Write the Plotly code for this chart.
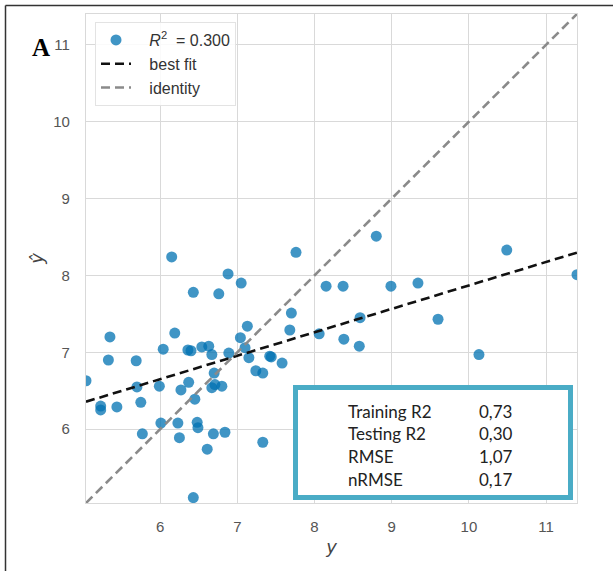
import plotly.graph_objects as go

# ---- data ----
y_true = [5.04, 5.23, 5.23, 5.35, 5.33, 5.44, 5.69, 5.70, 5.75, 5.77, 5.99, 6.04, 6.01, 6.19, 6.15,
          6.23, 6.25, 6.27, 6.36, 6.40, 6.37, 6.43, 6.45, 6.48, 6.49, 6.43, 6.54, 6.63, 6.67, 6.69,
          6.61, 6.70, 6.67, 6.71, 6.76, 6.80, 6.84, 6.88, 6.89, 7.05, 7.04, 7.10, 7.13, 7.15, 7.24,
          7.33, 7.33, 7.42, 7.44, 7.58, 7.68, 7.70, 7.76, 8.06, 8.15, 8.37, 8.38, 8.58, 8.59, 8.80,
          8.99, 9.34, 9.60, 10.13, 10.49, 11.40]
y_pred = [6.63, 6.30, 6.25, 7.20, 6.90, 6.29, 6.89, 6.55, 6.35, 5.94, 6.56, 7.04, 6.08, 7.25, 8.24,
          6.08, 5.89, 6.51, 7.03, 7.02, 6.61, 7.78, 6.39, 6.09, 6.02, 5.11, 7.07, 7.08, 6.97, 5.94,
          5.74, 6.73, 6.54, 6.58, 7.76, 6.56, 5.96, 8.02, 6.99, 7.90, 7.19, 7.06, 7.34, 6.93, 6.76,
          6.73, 5.83, 6.95, 6.94, 6.86, 7.29, 7.51, 8.30, 7.24, 7.86, 7.86, 7.17, 7.08, 7.45, 8.51,
          7.86, 7.90, 7.43, 6.97, 8.33, 8.01]
fit_slope = 0.305
fit_intercept = 4.82
r2_test = "0.300"
tick_vals = [6, 7, 8, 9, 10, 11]
metric_names = ["Training R2", "Testing R2", "RMSE", "nRMSE"]
metric_values = ["0,73", "0,30", "1,07", "0,17"]

lo = min(min(y_true), min(y_pred))
hi = max(max(y_true), max(y_pred))
lims = [lo, hi]

W, H = 613, 571
ML, MR, MT, MB = 86, 36, 14, 68
PW, PH = W - ML - MR, H - MT - MB


def px_x(p):
    return (p - ML) / PW


def px_y(p):
    return (H - MB - p) / PH


PAD = "\u00a0\u00a0\u00a0"

fig = go.Figure()
fig.add_trace(go.Scatter(
    x=y_true, y=y_pred, mode="markers",
    marker=dict(size=11, color="rgba(0,114,178,0.75)", line=dict(width=0)),
    name=PAD + "<i>R</i><sup>2</sup>  = " + r2_test,
    cliponaxis=True,
))
fig.add_trace(go.Scatter(
    x=lims, y=[fit_intercept + fit_slope * v for v in lims], mode="lines",
    line=dict(color="#111111", width=2.6, dash="9px,5px"), name=PAD + "best fit",
))
fig.add_trace(go.Scatter(
    x=lims, y=lims, mode="lines",
    line=dict(color="#8a8a8a", width=2.6, dash="9px,5px"), name=PAD + "identity",
))

axis_common = dict(
    range=lims, tickvals=tick_vals, showgrid=True, gridcolor="#d9d9d9", gridwidth=1.2,
    zeroline=False, showline=True, linecolor="#d9d9d9", linewidth=1.2, mirror=True,
    ticks="", tickfont=dict(family="Liberation Sans, Arial", size=15, color="#555555"),
)
fig.update_xaxes(**axis_common, ticklabelstandoff=10,
                 title=dict(text="<i>y</i>", font=dict(family="DejaVu Sans", size=18, color="#444444"), standoff=6))
fig.update_yaxes(**axis_common, ticklabelstandoff=12,
                 title=dict(text="<i>ŷ</i>", font=dict(family="DejaVu Sans", size=18, color="#444444"), standoff=4))

shapes = [
    # outer frame (left and top)
    dict(type="line", xref="paper", yref="paper", x0=px_x(5.5), x1=px_x(5.5), y0=px_y(571), y1=px_y(5.5),
         line=dict(color="#333333", width=1.5)),
    dict(type="line", xref="paper", yref="paper", x0=px_x(5.5), x1=px_x(613), y0=px_y(5.5), y1=px_y(5.5),
         line=dict(color="#333333", width=1.5)),
    # metrics box
    dict(type="rect", xref="paper", yref="paper", x0=px_x(295.5), x1=px_x(570.5), y0=px_y(497.5), y1=px_y(387.5),
         line=dict(color="#4aacc6", width=5), fillcolor="white", layer="above"),
]

annotations = [
    dict(text="<b>A</b>", xref="paper", yref="paper", x=px_x(41), y=px_y(47), showarrow=False,
         font=dict(family="Liberation Serif", size=25, color="black"), xanchor="center", yanchor="middle"),
]
row_y = [411, 433, 456, 479]
for name, val, ry in zip(metric_names, metric_values, row_y):
    annotations.append(dict(text=name, xref="paper", yref="paper", x=px_x(346), y=px_y(ry), showarrow=False,
                            xanchor="left", yanchor="middle",
                            font=dict(family="Lato", size=17, color="#222222")))
    annotations.append(dict(text=val, xref="paper", yref="paper", x=px_x(477), y=px_y(ry), showarrow=False,
                            xanchor="left", yanchor="middle",
                            font=dict(family="Lato", size=17, color="#222222")))

fig.update_layout(
    width=W, height=H, margin=dict(l=ML, r=MR, t=MT, b=MB),
    paper_bgcolor="white", plot_bgcolor="white",
    shapes=shapes, annotations=annotations,
    legend=dict(x=px_x(95), y=px_y(22), xanchor="left", yanchor="top",
                bgcolor="rgba(255,255,255,0.85)", bordercolor="#e3e3e3", borderwidth=1,
                font=dict(family="Liberation Sans, Arial", size=16, color="#333333"),
                itemwidth=30, tracegroupgap=0),
    showlegend=True,
)

fig.write_html("out.html")
